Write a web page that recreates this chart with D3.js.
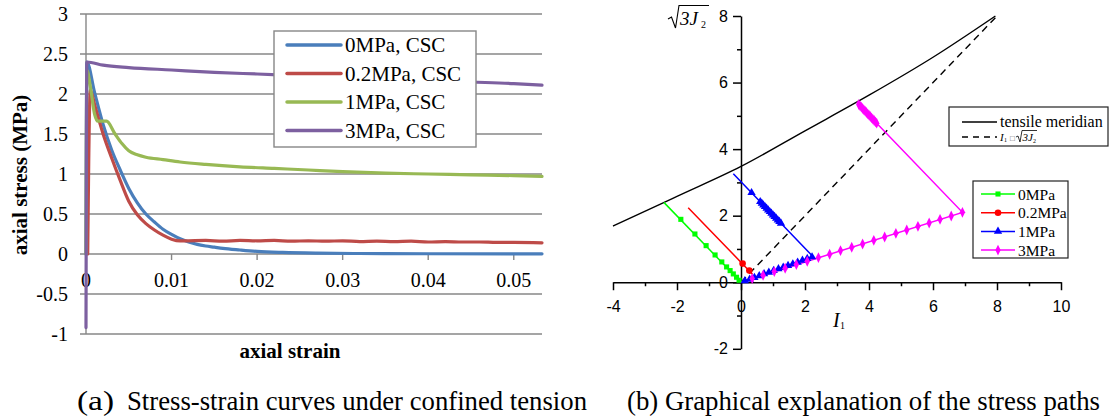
<!DOCTYPE html>
<html><head><meta charset="utf-8">
<script src="https://cdn.jsdelivr.net/npm/d3@7"></script>
<style>
body{margin:0;background:#fff}
.serif{font-family:"Liberation Serif"}
.sans{font-family:"Liberation Sans"}
</style>
</head><body>
<svg id="c" width="1111" height="419" xmlns="http://www.w3.org/2000/svg"></svg>
<script>
// ---------- Left chart data ----------
const leftYTicks = [-1, -0.5, 0, 0.5, 1, 1.5, 2, 2.5, 3];
const leftYLabels = ["-1", "-0.5", "0", "0.5", "1", "1.5", "2", "2.5", "3"];
const leftXTicks = [0, 0.01, 0.02, 0.03, 0.04, 0.05];
const leftXLabels = ["0", "0.01", "0.02", "0.03", "0.04", "0.05"];
const leftSeriesNames = ["0MPa, CSC", "0.2MPa, CSC", "1MPa, CSC", "3MPa, CSC"];

const curve0MPa = [[0,0],[0.0001,2.40],[0.001,2.02],[0.002,1.62],[0.003,1.30],[0.004,1.05],[0.005,0.82],
  [0.006,0.64],[0.007,0.50],[0.008,0.40],[0.009,0.31],[0.010,0.245],[0.011,0.19],[0.012,0.15],[0.013,0.12],
  [0.014,0.10],[0.015,0.085],[0.016,0.07],[0.018,0.05],[0.020,0.033],[0.023,0.02],[0.027,0.011],[0.032,0.006],
  [0.040,0.003],[0.050,0.002],[0.0533,0.002]];
const curve02MPa = [[0.0002,0],[0.0005,2.05],[0.001,1.87],[0.0015,1.68],[0.002,1.50],[0.003,1.20],[0.004,0.92],
  [0.005,0.66],[0.006,0.49],[0.007,0.38],[0.008,0.30],[0.009,0.235],[0.010,0.185],[0.011,0.163],[0.012,0.165],
  [0.014,0.17],[0.016,0.16],[0.018,0.17],[0.020,0.165],[0.022,0.17],[0.024,0.16],[0.026,0.165],[0.028,0.16],
  [0.030,0.165],[0.032,0.155],[0.034,0.16],[0.036,0.155],[0.038,0.16],[0.040,0.15],[0.042,0.155],[0.044,0.15],
  [0.046,0.15],[0.048,0.145],[0.050,0.145],[0.0533,0.14]];
const curve1MPa = [[0,0],[0.0001,2.30],[0.0005,2.10],[0.001,1.75],[0.0014,1.66],[0.0024,1.66],[0.0034,1.50],
  [0.0042,1.38],[0.005,1.29],[0.006,1.24],[0.007,1.21],[0.009,1.18],[0.011,1.15],[0.014,1.12],[0.018,1.09],
  [0.022,1.07],[0.026,1.05],[0.030,1.03],[0.035,1.01],[0.040,1.00],[0.045,0.99],[0.050,0.98],[0.0533,0.97]];
const curve3MPa = [[0,-0.92],[0.0001,2.40],[0.002,2.36],[0.005,2.33],[0.010,2.30],[0.015,2.27],[0.020,2.25],
  [0.025,2.23],[0.030,2.21],[0.035,2.19],[0.040,2.17],[0.045,2.15],[0.050,2.13],[0.0533,2.11]];
const leftCurves = [curve0MPa, curve02MPa, curve1MPa, curve3MPa];
const leftColors = ["#4A7EBB", "#BE4B48", "#98B954", "#7D60A0"];

// ---------- Right chart data ----------
const rightXTicks = [-4, -2, 0, 2, 4, 6, 8, 10];
const rightXMinor = [-3, -1, 1, 3, 5, 7, 9];
const rightYTicks = [-2, 0, 2, 4, 6, 8];
const rightYMinor = [-1, 1, 3, 5, 7];
const rightSeriesNames = ["0MPa", "0.2MPa", "1MPa", "3MPa"];
const rightColors = ["#00FF00", "#FF0000", "#0000FF", "#FF00FF"];

const tensileMeridian = [[-4,1.69],[-2.4,2.40],[-2,2.58],[0,3.48],[2,4.55],[4,5.62],[6,6.76],[7.95,8.0]];
const hydroLine = [[0,0],[8.05,8.05]];

const line0MPa = [[0,0],[-2.41,2.40]];
const marks0MPa = [[-0.06,0.06],[-0.14,0.15],[-0.24,0.25],[-0.34,0.35],[-0.45,0.46],[-0.6,0.61],
  [-0.81,0.82],[-1.09,1.10],[-1.44,1.45],[-1.88,1.89]];

const line02MPa = [[0.36,0.24],[0.05,0.55],[-1.65,2.24]];
const marks02MPa = [[0.26,0.35],[0.05,0.56]];

const line1MPa = [[0,0],[2.25,0.77],[1.27,1.75],[0.6,2.42],[0.33,2.69],[-0.24,3.26]];
const marks1MPa = [[0.12,0.04],[0.27,0.09],[0.42,0.14],[0.57,0.19],[0.72,0.25],[0.87,0.30],[1.02,0.35],
  [1.17,0.40],[1.32,0.45],[1.47,0.50],[1.62,0.55],[1.77,0.60],[1.92,0.66],[2.07,0.71],[2.22,0.76],
  [1.25,1.77],[1.20,1.82],[1.15,1.87],[1.10,1.92],[1.05,1.97],[1.00,2.02],[0.95,2.07],[0.90,2.12],
  [0.85,2.17],[0.80,2.22],[0.75,2.27],[0.70,2.32],[0.65,2.37],[0.60,2.42],[0.33,2.69]];

const line3MPa = [[0,0],[6.92,2.10],[4.24,4.78],[3.62,5.42]];
const marks3MPa = [[0.35,0.11],[0.69,0.21],[1.04,0.32],[1.38,0.42],[1.73,0.53],[2.07,0.63],[2.42,0.74],
  [2.77,0.84],[3.11,0.95],[3.46,1.05],[3.80,1.15],[4.15,1.26],[4.49,1.36],[4.84,1.47],[5.18,1.57],
  [5.53,1.68],[5.88,1.78],[6.22,1.89],[6.57,1.99],[6.92,2.10],
  [4.24,4.78],[4.20,4.82],[4.16,4.86],[4.12,4.90],[4.08,4.94],[4.04,4.98],[4.00,5.02],[3.96,5.06],
  [3.92,5.10],[3.88,5.14],[3.84,5.18],[3.80,5.22],[3.76,5.26],[3.72,5.30],[3.68,5.34]];

const rightLines = [line0MPa, line02MPa, line1MPa, line3MPa];
const rightMarks = [marks0MPa, marks02MPa, marks1MPa, marks3MPa];
const rightSymbols = [d3.symbolSquare, d3.symbolCircle, d3.symbolTriangle, d3.symbolDiamond];

const captionA = ["(a)", "Stress-strain curves under confined tension"];
const captionB = "(b) Graphical explanation of the stress paths";

// ---------- Drawing ----------
const svg = d3.select("#c");
svg.append("rect").attr("width",1111).attr("height",419).attr("fill","#fff");
const GRID = "#878787";
function txt(g, cls, x, y, size, s) {
  return g.append("text").attr("class", cls).attr("x", x).attr("y", y).style("font-size", size + "px").text(s);
}

// Left chart
const xL = d3.scaleLinear().domain([0, 0.0533]).range([86, 542]);
const yL = d3.scaleLinear().domain([-1, 3]).range([334, 14]);
const gL = svg.append("g");

gL.selectAll("line.grid").data(leftYTicks).join("line")
  .attr("x1", 80).attr("x2", 542).attr("y1", d => yL(d)).attr("y2", d => yL(d))
  .attr("stroke", GRID).attr("stroke-width", 1.4);
gL.append("line").attr("x1", xL(0)).attr("x2", xL(0)).attr("y1", yL(3)).attr("y2", yL(-1))
  .attr("stroke", GRID).attr("stroke-width", 1.4);
gL.selectAll("line.xt").data(leftXTicks.slice(1)).join("line")
  .attr("x1", d => xL(d)).attr("x2", d => xL(d)).attr("y1", yL(0)).attr("y2", yL(0) + 6)
  .attr("stroke", GRID).attr("stroke-width", 1.4);

gL.selectAll("text.yl").data(leftYTicks).join("text").attr("class", "serif")
  .attr("x", 68).attr("y", d => yL(d) + 7).attr("text-anchor", "end")
  .style("font-size", "20px").text((d, i) => leftYLabels[i]);

const xLab = gL.selectAll("text.xl").data(leftXTicks).join("text").attr("class", "serif")
  .attr("x", d => xL(d)).attr("y", 287).attr("text-anchor", "middle")
  .style("font-size", "20px").text((d, i) => leftXLabels[i]);
xLab.each(function(d) {
  const w = this.getComputedTextLength();
  const x = xL(d);
  if (x + w / 2 > 545) d3.select(this).attr("x", 545 - w / 2);
});

const lineL = d3.line().x(d => xL(d[0])).y(d => yL(d[1])).curve(d3.curveMonotoneX);
leftCurves.forEach((c, i) => {
  gL.append("path").attr("d", lineL(c)).attr("fill", "none").attr("stroke", leftColors[i])
    .attr("stroke-width", 3.2).attr("stroke-linejoin", "round").attr("stroke-linecap", "round");
});

gL.append("text").attr("class", "serif").attr("transform", "translate(27,175) rotate(-90)").attr("text-anchor", "middle")
  .style("font-size", "21px").style("font-weight", "bold").text("axial stress (MPa)");
txt(gL, "serif", 290, 358, 21, "axial strain").attr("text-anchor", "middle").style("font-weight", "bold");

// left legend
const legL = gL.append("g");
legL.append("rect").attr("x", 274).attr("y", 31).attr("width", 202).attr("height", 116)
  .attr("fill", "#fff").attr("stroke", GRID).attr("stroke-width", 1.4);
leftSeriesNames.forEach((n, i) => {
  const y = 45 + i * 28.5;
  legL.append("line").attr("x1", 287).attr("x2", 341).attr("y1", y).attr("y2", y)
    .attr("stroke", leftColors[i]).attr("stroke-width", 3.5).attr("stroke-linecap", "round");
  txt(legL, "serif", 345, y + 7, 21, n);
});

// Right chart
const xR = d3.scaleLinear().domain([-4, 10]).range([613, 1061]);
const yR = d3.scaleLinear().domain([-2, 8]).range([348.8, 16]);
const gR = svg.append("g");

const ax = gR.append("g").attr("transform", `translate(0,${yR(0)})`)
  .call(d3.axisBottom(xR).tickValues(rightXTicks).tickSize(8).tickSizeOuter(0).tickPadding(10).tickFormat(d => String(d)));
const axm = gR.append("g").attr("transform", `translate(0,${yR(0)})`)
  .call(d3.axisBottom(xR).tickValues(rightXMinor).tickSize(4).tickSizeOuter(0).tickFormat(""));
const ay = gR.append("g").attr("transform", `translate(${xR(0)},0)`)
  .call(d3.axisLeft(yR).tickValues(rightYTicks).tickSize(8).tickSizeOuter(0).tickPadding(5).tickFormat(d => String(d)));
const aym = gR.append("g").attr("transform", `translate(${xR(0)},0)`)
  .call(d3.axisLeft(yR).tickValues(rightYMinor).tickSize(4).tickSizeOuter(0).tickFormat(""));
[ax, axm, ay, aym].forEach(a => {
  a.attr("font-family", null).attr("font-size", null);
  a.selectAll("path,line").attr("stroke", "#000").attr("stroke-width", 1.5);
  a.selectAll("text").attr("class", "sans").style("font-size", "16px").attr("fill", "#000");
});
axm.select(".domain").remove(); aym.select(".domain").remove();

const lineR = d3.line().x(d => xR(d[0])).y(d => yR(d[1]));
gR.append("path").attr("d", d3.line().x(d => xR(d[0])).y(d => yR(d[1])).curve(d3.curveMonotoneX)(tensileMeridian))
  .attr("fill", "none").attr("stroke", "#000").attr("stroke-width", 1.4);
gR.append("path").attr("d", lineR(hydroLine)).attr("fill", "none").attr("stroke", "#000")
  .attr("stroke-width", 1.4).attr("stroke-dasharray", "7,5");

const symSize = [26, 34, 30, 34];
rightLines.forEach((l, i) => {
  gR.append("path").attr("d", lineR(l)).attr("fill", "none").attr("stroke", rightColors[i]).attr("stroke-width", 1.5);
});
rightMarks.forEach((m, i) => {
  const sym = d3.symbol().type(rightSymbols[i]).size(symSize[i]);
  gR.selectAll(null).data(m).join("path")
    .attr("transform", d => `translate(${xR(d[0])},${yR(d[1])})` + (i === 3 ? " scale(0.85,1)" : ""))
    .attr("d", sym()).attr("fill", rightColors[i]);
});

// axis titles
const jt = gR.append("g");
jt.append("path").attr("d", "M668,19 L671.5,17 L675.5,28 L679,5.5 L709,5.5").attr("fill", "none")
  .attr("stroke", "#000").attr("stroke-width", 1.1);
txt(jt, "serif", 680, 25, 19, "3J").style("font-style", "italic");
txt(jt, "serif", 701, 28, 10, "2");
txt(gR, "serif", 833, 327, 20, "I").style("font-style", "italic");
txt(gR, "serif", 840, 329, 10, "1");

// right legend 1
const l1 = gR.append("g");
l1.append("rect").attr("x", 949).attr("y", 107).attr("width", 159).attr("height", 39)
  .attr("fill", "#fff").attr("stroke", "#222").attr("stroke-width", 1.2);
l1.append("line").attr("x1", 962).attr("x2", 997).attr("y1", 122).attr("y2", 122).attr("stroke", "#000").attr("stroke-width", 1.4);
txt(l1, "serif", 1000, 127, 16, "tensile meridian");
l1.append("line").attr("x1", 962).attr("x2", 997).attr("y1", 137).attr("y2", 137).attr("stroke", "#000")
  .attr("stroke-width", 1.4).attr("stroke-dasharray", "6,5");
txt(l1, "serif", 1000, 141, 11, "I").style("font-style", "italic");
txt(l1, "serif", 1004, 142, 6, "1");
txt(l1, "sans", 1010, 141, 8, "\u25A1").attr("fill", "#555");
l1.append("path").attr("d", "M1016,137 L1018,136 L1020,142 L1022,130.5 L1037,130.5").attr("fill", "none")
  .attr("stroke", "#000").attr("stroke-width", 0.8);
txt(l1, "serif", 1022.5, 141, 11, "3J").style("font-style", "italic");
txt(l1, "serif", 1033, 142.5, 6, "2");

// right legend 2
const l2 = gR.append("g");
l2.append("rect").attr("x", 973).attr("y", 181).attr("width", 95).attr("height", 77)
  .attr("fill", "#fff").attr("stroke", "#222").attr("stroke-width", 1.2);
rightSeriesNames.forEach((n, i) => {
  const y = 194 + i * 18.7;
  l2.append("line").attr("x1", 981).attr("x2", 1015).attr("y1", y).attr("y2", y).attr("stroke", rightColors[i]).attr("stroke-width", 1.5);
  l2.append("path").attr("transform", `translate(998,${y})` + (i === 3 ? " scale(0.85,1)" : ""))
    .attr("d", d3.symbol().type(rightSymbols[i]).size(symSize[i])()).attr("fill", rightColors[i]);
  txt(l2, "serif", 1018, y + 5.5, 15.5, n);
});

// captions
txt(svg, "serif", 77, 410, 27, captionA[0]).attr("textLength", 37).attr("lengthAdjust", "spacingAndGlyphs");
txt(svg, "serif", 127, 410, 27, captionA[1]).attr("textLength", 460).attr("lengthAdjust", "spacingAndGlyphs");
txt(svg, "serif", 627, 410, 27, captionB).attr("textLength", 473).attr("lengthAdjust", "spacingAndGlyphs");
</script>
</body></html>
